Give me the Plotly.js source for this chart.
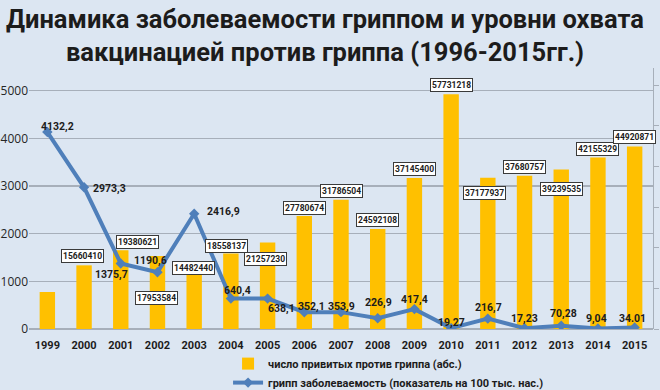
<!DOCTYPE html>
<html>
<head>
<meta charset="utf-8">
<script src="https://cdn.plot.ly/plotly-3.0.1.min.js"></script>
<style>html,body{margin:0;padding:0;background:#DCE6F2;}#chart{width:660px;height:390px;}</style>
</head>
<body>
<div id="chart"></div>
<script>
// ---- data ----
const years = ["1999","2000","2001","2002","2003","2004","2005","2006","2007","2008","2009","2010","2011","2012","2013","2014","2015"];
const vaccinated = [9100000,15660410,19380621,17953584,14482440,18558137,21257230,27780674,31786504,24592108,37145400,57731218,37177937,37680757,39239535,42155329,44920871];
const vaccinatedLabels = ["","15660410","19380621","17953584","14482440","18558137","21257230","27780674","31786504","24592108","37145400","57731218","37177937","37680757","39239535","42155329","44920871"];
const incidence = [4132.2,2973.3,1375.7,1190.6,2416.9,640.4,638.1,352.1,353.9,226.9,417.4,19.27,216.7,17.23,70.28,9.04,34.01];
const incidenceLabels = ["4132,2","2973,3","1375,7","1190,6","2416,9","640,4","638,1","352,1","353,9","226,9","417,4","19,27","216,7","17,23","70,28","9,04","34.01"];
const seriesNames = ["число привитых против гриппа (абс.)","грипп заболеваемость (показатель на 100 тыс. нас.)"];
const titleText = "Динамика заболеваемости гриппом и уровни охвата<br>вакцинацией против гриппа (1996-2015гг.)";

// ---- label placement (pixel offsets, style only) ----
const barLabelDx = [0,-2,17,-1,-1,-4,-2,0,0,0,0,0,-3,0,0,0,0];
const barLabelDy = [0,9,8,-42,2,8,-16,8,9,9,9,9,-15,9,-20,9,9];
const lineLabelDx = [10,25,-9,-7,29,7,14,7,0,1,0,0,1,0,2,-1,-2];
const lineLabelDy = [6,-1,-11,12,2,8,-10,6,6,16,10,6,11,10,12,10,9];

const BAR = "#FFC000", LINE = "#4F7FBA", BG = "#DCE6F2", GRID = "#A7AFBA", DARK = "#1C1C1C";

const traces = [
  {type:"bar", x:years, y:vaccinated, name:seriesNames[0], marker:{color:BAR}, width:0.42, yaxis:"y", hoverinfo:"skip"},
  {type:"scatter", mode:"lines+markers", x:years, y:incidence, name:seriesNames[1], yaxis:"y2",
   line:{color:LINE, width:4}, marker:{symbol:"diamond", size:8, color:LINE}, hoverinfo:"skip"}
];

const annotations = [];
years.forEach((yr,i)=>{
  if (vaccinatedLabels[i]) {
    annotations.push({x:i, y:vaccinated[i], xref:"x", yref:"y", text:vaccinatedLabels[i], showarrow:false,
      xshift:barLabelDx[i], yshift:barLabelDy[i], xanchor:"center", yanchor:"middle",
      bgcolor:"#FFFFFF", bordercolor:"#3A3A3A", borderwidth:1, borderpad:1,
      font:{family:"Roboto", size:8.5, weight:700, color:DARK}});
  }
  annotations.push({x:i, y:incidence[i], xref:"x", yref:"y2", text:incidenceLabels[i], showarrow:false,
    xshift:lineLabelDx[i], yshift:lineLabelDy[i], xanchor:"center", yanchor:"middle",
    font:{family:"Roboto", size:10.5, weight:700, color:DARK}});
});
annotations.push({x:0.474, y:1.253, xref:"paper", yref:"paper", text:titleText, showarrow:false,
  xanchor:"center", yanchor:"top", align:"center",
  font:{family:"Roboto", size:25.5, weight:700, color:DARK}});

const layout = {
  width:660, height:390,
  paper_bgcolor:BG, plot_bgcolor:BG,
  margin:{l:29, r:7, t:68, b:61, autoexpand:false},
  xaxis:{type:"category", range:[-0.5,16.5], autorange:false, showgrid:false, zeroline:false, showline:false, ticks:"",
         ticklabelstandoff:8, tickfont:{family:"Roboto", size:11, weight:700, color:DARK}},
  yaxis:{side:"right", range:[0,64200000], autorange:false, dtick:10000000, showgrid:false, zeroline:false,
         showticklabels:false, ticks:"outside", ticklen:5, tickcolor:GRID, showline:true, linecolor:GRID, linewidth:1},
  yaxis2:{overlaying:"y", side:"left", range:[0,5476], autorange:false, dtick:1000, showgrid:true, gridcolor:GRID, gridwidth:1.3,
          zeroline:true, zerolinecolor:GRID, zerolinewidth:1.3, showline:false, ticks:"",
          tickfont:{family:"Open Sans", size:12, color:"#262626"}},
  legend:{orientation:"v", x:0.319, xanchor:"left", y:-0.077, yanchor:"top", bgcolor:"rgba(0,0,0,0)",
          font:{family:"Roboto", size:11, weight:700, color:DARK}, tracegroupgap:0},
  annotations:annotations
};

Plotly.newPlot("chart", traces, layout, {staticPlot:true, displayModeBar:false});
</script>
</body>
</html>
